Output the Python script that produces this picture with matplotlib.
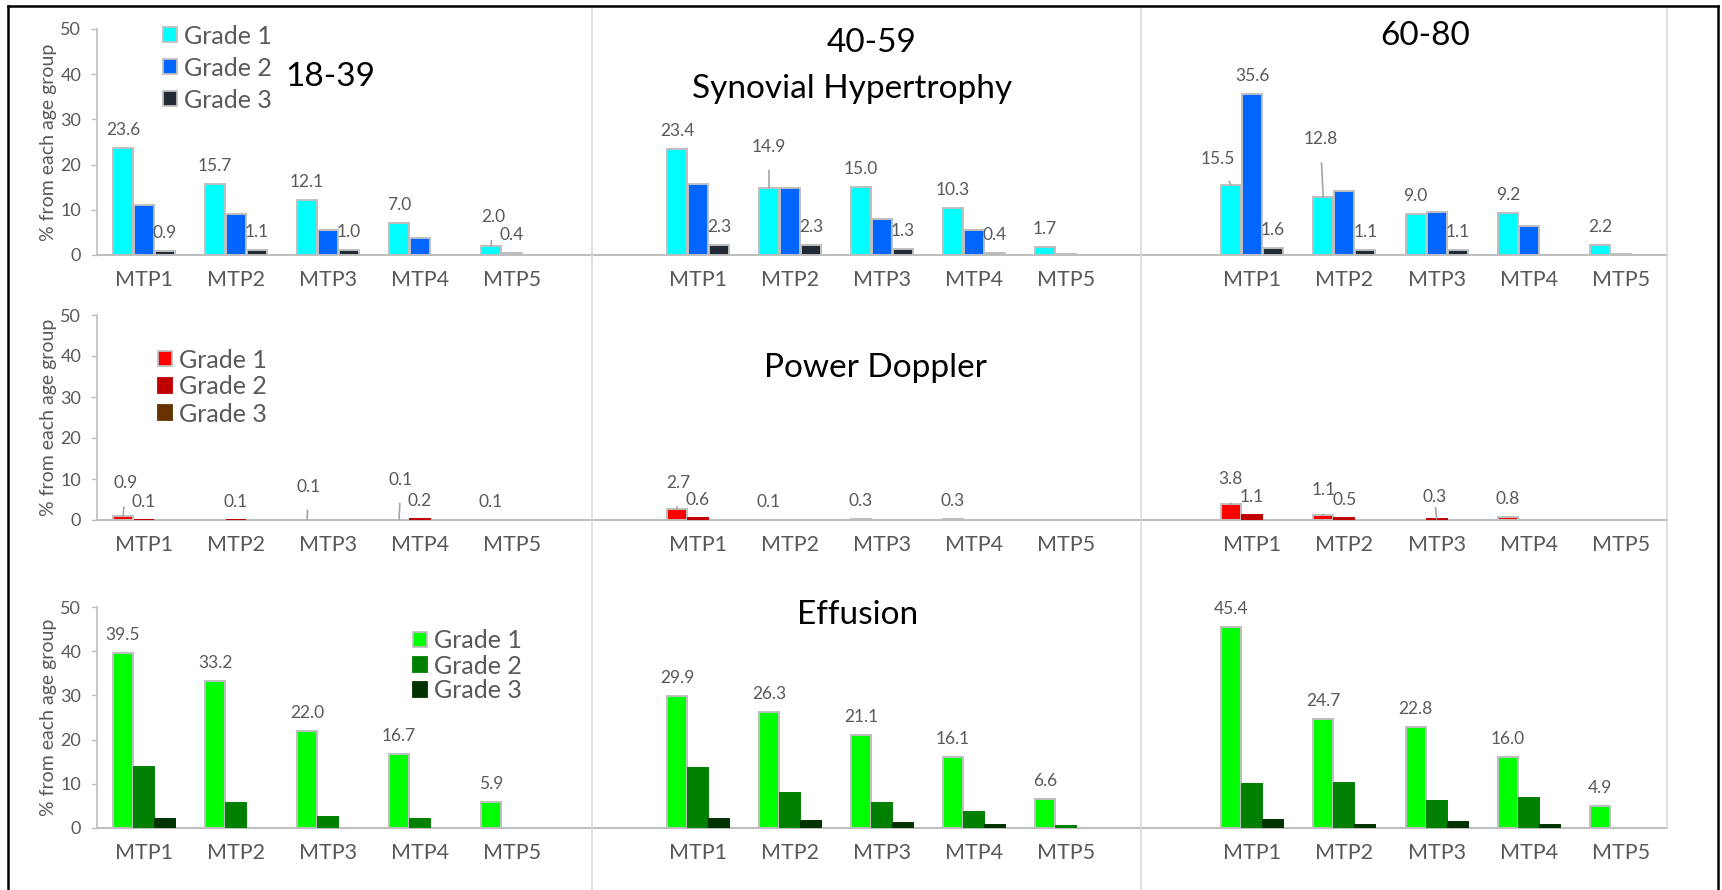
import numpy as np
import matplotlib.pyplot as plt
from matplotlib.patches import Patch
from matplotlib.lines import Line2D

plt.rcParams['font.family'] = ['Lato', 'DejaVu Sans']

joints = ['MTP1', 'MTP2', 'MTP3', 'MTP4', 'MTP5']
ages = ['18-39', '40-59', '60-80']
grades = ['Grade 1', 'Grade 2', 'Grade 3']

# synovial hypertrophy (one list per age group)
sh_g1 = [[23.6, 15.7, 12.1, 7.0, 2.0], [23.4, 14.9, 15.0, 10.3, 1.7], [15.5, 12.8, 9.0, 9.2, 2.2]]
sh_g2 = [[11.0, 9.0, 5.5, 3.8, 0.4], [15.7, 14.8, 7.9, 5.5, 0.3], [35.6, 14.2, 9.5, 6.4, 0.3]]
sh_g3 = [[0.9, 1.1, 1.0, 0, 0], [2.3, 2.3, 1.3, 0.4, 0], [1.6, 1.1, 1.1, 0, 0]]
# power doppler
pd_g1 = [[0.9, 0, 0.1, 0.1, 0.1], [2.7, 0.1, 0.3, 0.3, 0], [3.8, 1.1, 0, 0.8, 0]]
pd_g2 = [[0.1, 0.1, 0, 0.2, 0], [0.6, 0, 0, 0, 0], [1.1, 0.5, 0.3, 0, 0]]
pd_g3 = [[0, 0, 0, 0, 0], [0, 0, 0, 0, 0], [0, 0, 0, 0, 0]]
# effusion
ef_g1 = [[39.5, 33.2, 22.0, 16.7, 5.9], [29.9, 26.3, 21.1, 16.1, 6.6], [45.4, 24.7, 22.8, 16.0, 4.9]]
ef_g2 = [[13.8, 5.7, 2.5, 2.0, 0], [13.6, 8.0, 5.6, 3.7, 0.4], [10.0, 10.2, 6.1, 6.8, 0]]
ef_g3 = [[2.0, 0, 0, 0, 0], [2.1, 1.6, 1.1, 0.7, 0], [1.8, 0.7, 1.4, 0.7, 0]]

# which values carry a data label (grade x joint, per age group)
sh_lab = [[[1, 1, 1, 1, 1], [0, 0, 0, 0, 1], [1, 1, 1, 0, 0]],
          [[1, 1, 1, 1, 1], [0, 0, 0, 0, 0], [1, 1, 1, 1, 0]],
          [[1, 1, 1, 1, 1], [1, 0, 0, 0, 0], [1, 1, 1, 0, 0]]]
pd_lab = [[[1, 0, 1, 1, 1], [1, 1, 0, 1, 0], [0, 0, 0, 0, 0]],
          [[1, 1, 1, 1, 0], [1, 0, 0, 0, 0], [0, 0, 0, 0, 0]],
          [[1, 1, 0, 1, 0], [1, 1, 1, 0, 0], [0, 0, 0, 0, 0]]]
ef_lab = [[[1, 1, 1, 1, 1], [0, 0, 0, 0, 0], [0, 0, 0, 0, 0]]] * 3

panels = [
    dict(name='Synovial Hypertrophy', data=[sh_g1, sh_g2, sh_g3], lab=sh_lab,
         colors=['#00FFFF', '#0066FF', '#222A35'], edges=[True, True, True]),
    dict(name='Power Doppler', data=[pd_g1, pd_g2, pd_g3], lab=pd_lab,
         colors=['#FF0000', '#C00000', '#663300'], edges=[True, False, False]),
    dict(name='Effusion', data=[ef_g1, ef_g2, ef_g3], lab=ef_lab,
         colors=['#00FF00', '#008000', '#003300'], edges=[True, False, False]),
]

# labels that were dragged away from the bar (row, age, grade, joint) -> (dx, up) in px
moved = {(0, 0, 0, 4): (2, 11), (0, 1, 0, 1): (0, 23), (0, 2, 0, 0): (-13, 8),
         (0, 2, 0, 1): (-3, 40), (1, 0, 0, 0): (3, 15), (1, 0, 0, 2): (2, 15),
         (1, 0, 0, 3): (2, 22), (1, 1, 0, 0): (1, 8), (1, 2, 0, 0): (0, 7),
         (1, 2, 0, 1): (0, 7), (1, 2, 1, 2): (-2, 4)}

W, H = 1722, 890
PT = 100 / 72.0
GREY = '#595959'
LINE = '#bfbfbf'


def fx(x):
    return x / W


def fy(y):
    return 1 - y / H


fig = plt.figure(figsize=(W / 100, H / 100), dpi=100)

# chart columns: left px, right px, first category px, category step px
cols = [(97, 592, 144, 92.0), (592, 1141, 698, 92.0), (1141, 1667, 1252, 92.3)]
# rows: baseline px, top (50) px
rows = [(255, 29), (520, 315), (828, 607)]
legend_pos = [(163, 68, 0.36), (158, 387, 0.16), (413, 666, 0.08)]

x = np.arange(len(joints))
for r, p in enumerate(panels):
    base, top = rows[r]
    for c in range(3):
        left, right, c0, sp = cols[c]
        ax = fig.add_axes([fx(left), fy(base), (right - left) / W, (base - top) / H])
        ax.set_xlim((left - c0) / sp, (right - c0) / sp)
        ax.set_ylim(0, 50)
        ax.patch.set_alpha(0)
        for g in range(3):
            vals = np.array(p['data'][g][c], dtype=float)
            xs = x + (g - 1) * 0.228
            keep = vals > 0
            ax.bar(xs[keep], vals[keep], width=0.217, color=p['colors'][g],
                   edgecolor=LINE if p['edges'][g] else p['colors'][g],
                   linewidth=1.4, zorder=3)
            for j in range(5):
                if not p['lab'][c][g][j]:
                    continue
                dx, up = moved.get((r, c, g, j), (0, 0))
                arrow = None
                if up:
                    arrow = dict(arrowstyle='-', color='#a6a6a6', lw=1.2,
                                 shrinkA=13 / PT, shrinkB=0)
                ax.annotate(f'{vals[j]:.1f}', xy=(xs[j], vals[j]),
                            xytext=(dx / PT, (18 + up) / PT), textcoords='offset points',
                            ha='center', va='center', fontsize=12.5, color=GREY,
                            arrowprops=arrow, zorder=4)
        for s in ['top', 'right']:
            ax.spines[s].set_visible(False)
        ax.spines['bottom'].set_color(LINE)
        ax.spines['bottom'].set_linewidth(1.5)
        ax.set_xticks(x, joints)
        ax.tick_params(axis='x', length=0, pad=11, labelsize=15.5, labelcolor=GREY)
        if c == 0:
            ax.spines['left'].set_color(LINE)
            ax.spines['left'].set_linewidth(1.2)
            ax.set_yticks(range(0, 51, 10))
            ax.tick_params(axis='y', length=4.3, width=1, color=LINE, pad=7,
                           labelsize=13, labelcolor=GREY)
            ax.set_ylabel('% from each age group', fontsize=14, color=GREY)
            ax.yaxis.set_label_coords((57 - left) / (right - left), 0.5)
            lx, ly, spacing = legend_pos[r]
            handles = [Patch(facecolor=p['colors'][g],
                             edgecolor=LINE if (r == 0 or g == 0) else p['colors'][g],
                             linewidth=1.3) for g in range(3)]
            leg = ax.legend(handles, grades, loc='center left',
                            bbox_to_anchor=(fx(lx), fy(ly)), bbox_transform=fig.transFigure,
                            frameon=False, borderpad=0, borderaxespad=0,
                            handlelength=0.55, handleheight=0.55, handletextpad=0.3,
                            labelspacing=spacing, fontsize=18)
            for t in leg.get_texts():
                t.set_color(GREY)
        else:
            ax.spines['left'].set_visible(False)
            ax.set_yticks([])

# titles
tsize = 24
fig.text(fx(330), fy(77), ages[0], ha='center', va='center', fontsize=tsize)
fig.text(fx(872), fy(43), ages[1], ha='center', va='center', fontsize=tsize)
fig.text(fx(1425), fy(36), ages[2], ha='center', va='center', fontsize=tsize)
fig.text(fx(852), fy(89), panels[0]['name'], ha='center', va='center', fontsize=tsize)
fig.text(fx(875), fy(368), panels[1]['name'], ha='center', va='center', fontsize=tsize)
fig.text(fx(858), fy(615), panels[2]['name'], ha='center', va='center', fontsize=tsize)

# chart borders
for xs_, y0, y1 in [(592, 6, 890), (1141, 6, 890), (1667, 6, 828)]:
    fig.add_artist(Line2D([fx(xs_)] * 2, [fy(y0), fy(y1)], color='#d9d9d9', lw=1.1))
fig.add_artist(Line2D([fx(8), fx(1718)], [fy(6), fy(6)], color='black', lw=1.8))
fig.add_artist(Line2D([fx(8), fx(8)], [fy(6), fy(890)], color='black', lw=1.8))
fig.add_artist(Line2D([fx(1718), fx(1718)], [fy(6), fy(890)], color='black', lw=1.8))

fig.savefig('out.png', dpi=100)
